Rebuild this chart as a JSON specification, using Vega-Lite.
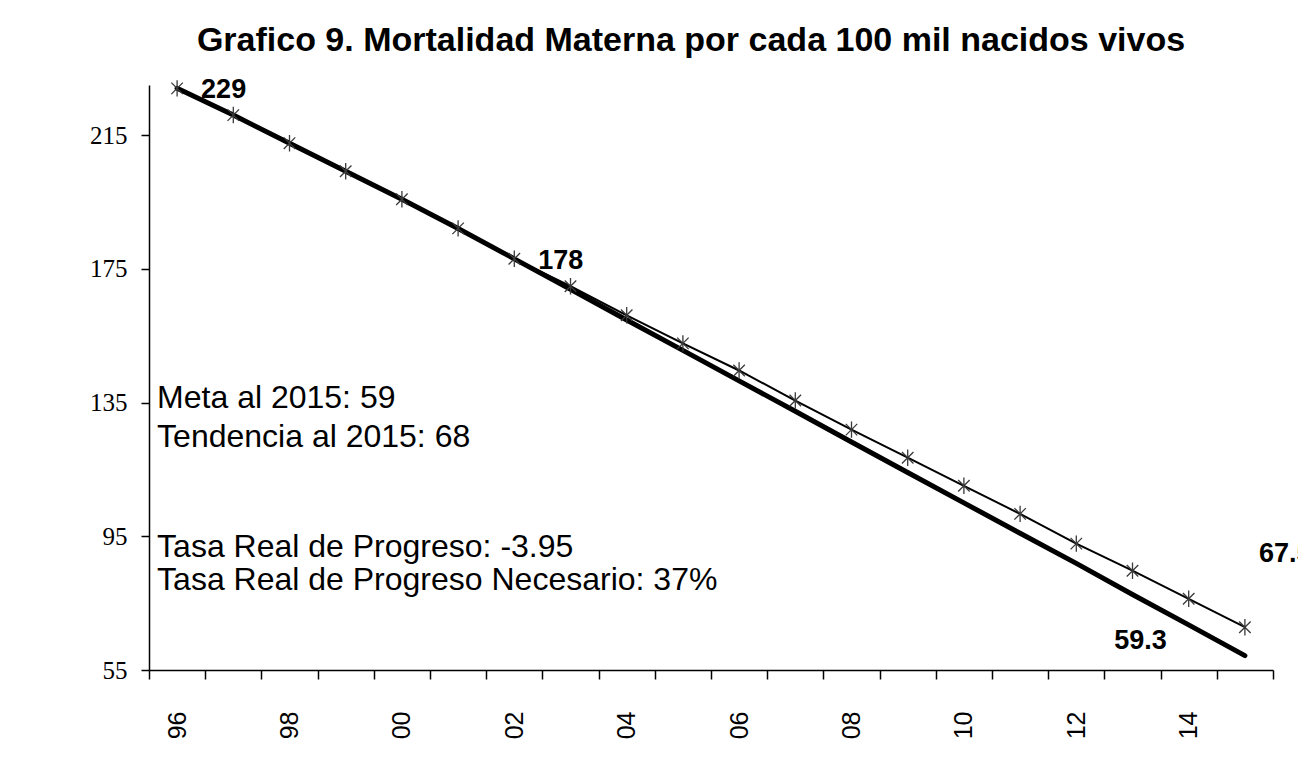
{
  "$schema": "https://vega.github.io/schema/vega-lite/v6.json",
  "autosize": {"type": "none"},
  "width": 1124,
  "height": 585,
  "padding": {"left": 149, "top": 85, "right": 25, "bottom": 100},
  "background": "white",
  "title": {
    "text": "Grafico 9. Mortalidad Materna por cada 100 mil nacidos vivos",
    "font": "Liberation Sans",
    "fontSize": 34,
    "fontWeight": "bold",
    "color": "black",
    "anchor": "middle",
    "dx": -20,
    "offset": 18
  },
  "config": {
    "view": {"stroke": null},
    "axis": {"grid": false, "domainColor": "black", "tickColor": "black", "labelColor": "black", "domainWidth": 1.5, "tickWidth": 1.5, "title": null}
  },
  "datasets": {
    "series": [
      {"year": 1996, "serie": "Tendencia", "valor": 229},
      {"year": 1997, "serie": "Tendencia", "valor": 221},
      {"year": 1998, "serie": "Tendencia", "valor": 212.6},
      {"year": 1999, "serie": "Tendencia", "valor": 204.2},
      {"year": 2000, "serie": "Tendencia", "valor": 195.8},
      {"year": 2001, "serie": "Tendencia", "valor": 187.1},
      {"year": 2002, "serie": "Tendencia", "valor": 178},
      {"year": 2003, "serie": "Tendencia", "valor": 169.8},
      {"year": 2004, "serie": "Tendencia", "valor": 161.1},
      {"year": 2005, "serie": "Tendencia", "valor": 152.7},
      {"year": 2006, "serie": "Tendencia", "valor": 144.6},
      {"year": 2007, "serie": "Tendencia", "valor": 135.6},
      {"year": 2008, "serie": "Tendencia", "valor": 126.9},
      {"year": 2009, "serie": "Tendencia", "valor": 118.5},
      {"year": 2010, "serie": "Tendencia", "valor": 110.1},
      {"year": 2011, "serie": "Tendencia", "valor": 101.7},
      {"year": 2012, "serie": "Tendencia", "valor": 92.8},
      {"year": 2013, "serie": "Tendencia", "valor": 84.7},
      {"year": 2014, "serie": "Tendencia", "valor": 76.3},
      {"year": 2015, "serie": "Tendencia", "valor": 67.8},
      {"year": 1996, "serie": "Meta", "valor": 229},
      {"year": 1997, "serie": "Meta", "valor": 221},
      {"year": 1998, "serie": "Meta", "valor": 212.6},
      {"year": 1999, "serie": "Meta", "valor": 204.2},
      {"year": 2000, "serie": "Meta", "valor": 195.8},
      {"year": 2001, "serie": "Meta", "valor": 187.1},
      {"year": 2002, "serie": "Meta", "valor": 178},
      {"year": 2003, "serie": "Meta", "valor": 168.9},
      {"year": 2004, "serie": "Meta", "valor": 159.7},
      {"year": 2005, "serie": "Meta", "valor": 150.6},
      {"year": 2006, "serie": "Meta", "valor": 141.5},
      {"year": 2007, "serie": "Meta", "valor": 132.4},
      {"year": 2008, "serie": "Meta", "valor": 123.2},
      {"year": 2009, "serie": "Meta", "valor": 114.1},
      {"year": 2010, "serie": "Meta", "valor": 105.0},
      {"year": 2011, "serie": "Meta", "valor": 95.9},
      {"year": 2012, "serie": "Meta", "valor": 86.9},
      {"year": 2013, "serie": "Meta", "valor": 77.6},
      {"year": 2014, "serie": "Meta", "valor": 68.5},
      {"year": 2015, "serie": "Meta", "valor": 59.3}
    ],
    "etiquetas": [
      {"year": 1996, "valor": 229, "texto": "229"},
      {"year": 2002, "valor": 178, "texto": "178"},
      {"year": 2015, "valor": 67.5, "texto": "67.5"},
      {"year": 2015, "valor": 59.3, "texto": "59.3"}
    ],
    "notas": [
      {"year": 1996, "valor": 133.4, "texto": "Meta al 2015: 59"},
      {"year": 1996, "valor": 121.8, "texto": "Tendencia al 2015: 68"},
      {"year": 1996, "valor": 88.9, "texto": "Tasa Real de Progreso: -3.95"},
      {"year": 1996, "valor": 78.9, "texto": "Tasa Real de Progreso Necesario: 37%"}
    ]
  },
  "data": {"name": "series"},
  "encoding": {
    "x": {
      "field": "year", "type": "ordinal", "bandPosition": 0.5,
      "scale": {"type": "band", "paddingInner": 0, "paddingOuter": 0},
      "axis": {
        "tickBand": "extent", "labelAngle": 270, "labelOverlap": false,
        "labelExpr": "datum.value % 2 === 0 ? substring(toString(datum.value), 2, 4) : ''",
        "labelFont": "Liberation Sans", "labelFontSize": 25, "tickSize": 9, "labelPadding": 32
      }
    },
    "y": {
      "field": "valor", "type": "quantitative",
      "scale": {"domain": [55, 230], "nice": false, "zero": false},
      "axis": {"values": [55, 95, 135, 175, 215], "labelFont": "Liberation Serif", "labelFontSize": 25, "tickSize": 8, "labelPadding": 14}
    }
  },
  "layer": [
    {
      "transform": [{"filter": "datum.serie === 'Meta'"}],
      "mark": {"type": "line", "color": "black", "strokeWidth": 5, "strokeCap": "round"}
    },
    {
      "transform": [{"filter": "datum.serie === 'Tendencia'"}],
      "mark": {"type": "line", "color": "black", "strokeWidth": 2}
    },
    {
      "transform": [{"filter": "datum.serie === 'Tendencia'"}],
      "mark": {"type": "point", "shape": "M-0.7,-0.7L0.7,0.7M-0.7,0.7L0.7,-0.7M0,-1L0,1", "filled": false, "size": 270, "stroke": "#3a3a3a", "strokeWidth": 1.3, "opacity": 1}
    },
    {
      "data": {"name": "etiquetas"},
      "transform": [{"filter": "datum.texto === '229' || datum.texto === '178'"}],
      "mark": {"type": "text", "font": "Liberation Sans", "fontSize": 27, "fontWeight": "bold", "align": "left", "baseline": "middle", "dx": 24, "dy": 2, "color": "black"},
      "encoding": {"text": {"field": "texto"}}
    },
    {
      "data": {"name": "etiquetas"},
      "transform": [{"filter": "datum.texto === '67.5'"}],
      "mark": {"type": "text", "font": "Liberation Sans", "fontSize": 27, "fontWeight": "bold", "align": "left", "baseline": "middle", "dx": 14, "dy": -74, "color": "black"},
      "encoding": {"text": {"field": "texto"}}
    },
    {
      "data": {"name": "etiquetas"},
      "transform": [{"filter": "datum.texto === '59.3'"}],
      "mark": {"type": "text", "font": "Liberation Sans", "fontSize": 27, "fontWeight": "bold", "align": "right", "baseline": "middle", "dx": -78, "dy": -15, "color": "black"},
      "encoding": {"text": {"field": "texto"}}
    },
    {
      "data": {"name": "notas"},
      "mark": {"type": "text", "font": "Liberation Sans", "fontSize": 32, "align": "left", "baseline": "alphabetic", "dx": -20, "color": "black"},
      "encoding": {"text": {"field": "texto"}}
    }
  ]
}
